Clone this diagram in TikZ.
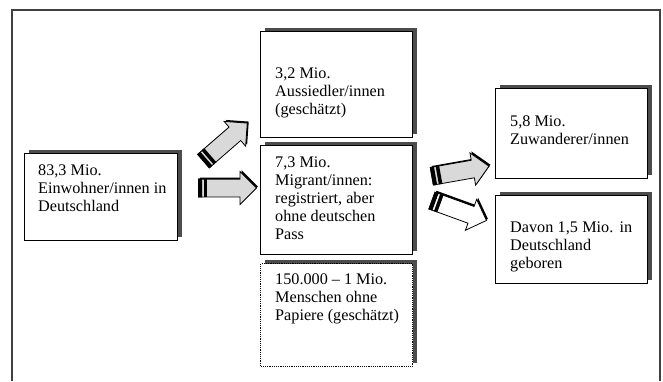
\documentclass[tikz,border=0pt]{standalone}
\usepackage{fontspec}
\setmainfont{Liberation Serif}
\usetikzlibrary{shapes.arrows,calc,positioning}

\newcommand{\tailbar}[3]{%
  \fill ($(#1.before tail)!#2!($(#1.before tail)+(#1.tip)-(#1.tail)$)$)
    -- ($(#1.before tail)!#3!($(#1.before tail)+(#1.tip)-(#1.tail)$)$)
    -- ($(#1.after tail)!#3!($(#1.after tail)+(#1.tip)-(#1.tail)$)$)
    -- ($(#1.after tail)!#2!($(#1.after tail)+(#1.tip)-(#1.tail)$)$) -- cycle;}

\begin{document}
\begin{tikzpicture}[x=1pt,y=-1pt,
    box/.style={draw,line width=1.2pt,fill=white,inner sep=0pt,anchor=north west,minimum width=152pt,
      preaction={fill=black!70,transform canvas={shift={(4pt,4pt)}}}},
    txt/.style={anchor=north west,inner sep=0pt,align=left,font=\fontsize{16.2}{18}\selectfont},
    blk/.style={single arrow,draw,line width=.8pt,fill=gray!30,inner xsep=0pt,inner ysep=8.5pt,
      minimum height=58pt,single arrow head extend=7.5pt,
      preaction={fill=black,transform canvas={shift={(1.5pt,1.5pt)}}}}]
    \useasboundingbox (0,0) rectangle (663,381);
    \draw[line width=1.2pt,black!75] (12,381) -- (12,10) -- (660,10) -- (660,381);

    \node[box,minimum width=153pt,minimum height=87pt] (einw) at (24,153) {};
    \node[box,minimum height=106pt] (auss) at (260,31) {};
    \node[box,minimum height=109pt] (migr) at (260,145) {};
    \node[box,densely dotted,minimum height=103pt] (pap) at (260,263) {};
    \node[box,minimum height=90pt] (zuw) at (495,88) {};
    \node[box,minimum height=88pt] (dav) at (495,195) {};

    \node[txt] (einwtxt) at ([shift={(14,12)}]einw.north west) {83,3 Mio.\\Einwohner/innen in\\Deutschland};
    \node[txt] (ausstxt) at ([shift={(15,37)}]auss.north west) {3,2 Mio.\\Aussiedler/innen\\(geschätzt)};
    \node[txt] (migrtxt) at ([shift={(15,12)}]migr.north west) {7,3 Mio.\\Migrant/innen:\\registriert, aber\\ohne deutschen\\Pass};
    \node[txt] (paptxt) at ([shift={(15,11)}]pap.north west) {150.000 -- 1 Mio.\\Menschen ohne\\Papiere (geschätzt)};
    \node[txt] (zuwtxt) at ([shift={(15,28)}]zuw.north west) {5,8 Mio.\\Zuwanderer/innen};
    \node[txt] (davtxt) at ([shift={(15,27)}]dav.north west) {\makebox[122pt][s]{Davon 1,5 Mio. in}\\Deutschland\\geboren};

    % block arrows
    \node[blk,rotate=41] (arA) at (222,145) {};
    \node[blk] (arB) at (223,188) {};
    \node[blk,rotate=10] (arC) at (456,172) {};
    \node[blk,fill=white,rotate=-20] (arD) at (455,209) {};
    \foreach \a in {arA,arB,arC,arD} {
        \tailbar{\a}{0}{.07}
        \tailbar{\a}{.1}{.16}
    }
\end{tikzpicture}
\end{document}
